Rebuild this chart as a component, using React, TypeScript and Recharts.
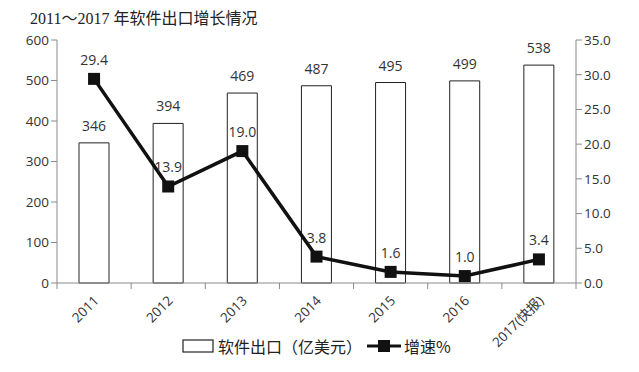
import React from "react";
import {
  Bar, ComposedChart, LabelList, Legend, Line, XAxis, YAxis,
} from "recharts";

const years = ["2011", "2012", "2013", "2014", "2015", "2016", "2017(快报)"];
const exportsUsd = [346, 394, 469, 487, 495, 499, 538];
const growth = [29.4, 13.9, 19.0, 3.8, 1.6, 1.0, 3.4];
const leftTicks = [0, 100, 200, 300, 400, 500, 600];
const rightTicks = [0, 5, 10, 15, 20, 25, 30, 35];

const data = years.map((y, i) => ({ year: y, exports: exportsUsd[i], growth: growth[i] }));

const font = "'Open Sans', 'Noto Sans CJK SC', sans-serif";
const axisColor = "#8a8a8a";
const band = (639 - 57 - 63) / years.length;

function XTick({ x, y, payload, index }: any) {
  const top = y - 8;
  return (
    <g>
      <line x1={x - band / 2} y1={top} x2={x - band / 2} y2={top + 6} stroke={axisColor} />
      {index === years.length - 1 && (
        <line x1={x + band / 2} y1={top} x2={x + band / 2} y2={top + 6} stroke={axisColor} />
      )}
      <text x={x + 3} y={y + 8} transform={`rotate(-45 ${x + 3} ${y + 8})`} textAnchor="end"
        dominantBaseline="middle" fontSize={13.5} fill="#333" fontFamily={font}>
        {payload.value}
      </text>
    </g>
  );
}

function Square(props: any) {
  const { cx, cy } = props;
  if (cx == null || cy == null) return null;
  return <rect x={cx - 6} y={cy - 6} width={12} height={12} fill="#111" />;
}

function LegendBox() {
  return (
    <div style={{ display: "flex", alignItems: "center", fontFamily: "'Noto Sans CJK SC', sans-serif", fontSize: 16, lineHeight: "20px", color: "#222" }}>
      <svg width={32} height={14}><rect x={1} y={1} width={30} height={12} fill="#fff" stroke="#222" strokeWidth={1.2} /></svg>
      <span style={{ marginLeft: 4, marginRight: 5 }}>软件出口（亿美元）</span>
      <svg width={34} height={14}>
        <line x1={0} y1={7} x2={34} y2={7} stroke="#111" strokeWidth={3} />
        <rect x={11} y={1} width={12} height={12} fill="#111" />
      </svg>
      <span style={{ marginLeft: 3 }}>增速%</span>
    </div>
  );
}

export default function App() {
  return (
    <div style={{ position: "absolute", left: 0, top: 0, width: 639, height: 372, background: "#fff" }}>
      <div style={{ position: "absolute", left: 30, top: 5, fontFamily: "'Liberation Serif', 'Noto Sans CJK SC', serif", fontSize: 16, color: "#222" }}>
        2011～2017 年软件出口增长情况
      </div>
      <ComposedChart width={639} height={372} data={data}
        margin={{ top: 40, right: 0, bottom: 0, left: 0 }}>
        <XAxis dataKey="year" height={69} tick={<XTick />} interval={0}
          axisLine={{ stroke: axisColor }} tickLine={false} />
        <YAxis yAxisId="left" width={57} domain={[0, 600]} ticks={leftTicks} interval={0}
          tick={{ fontSize: 13.5, fill: "#333", fontFamily: font }}
          axisLine={{ stroke: axisColor }} tickLine={{ stroke: axisColor }} tickSize={6} />
        <YAxis yAxisId="right" orientation="right" width={63} domain={[0, 35]} ticks={rightTicks} interval={0}
          tickFormatter={(v: number) => v.toFixed(1)}
          tick={{ fontSize: 13.5, fill: "#333", fontFamily: font }}
          axisLine={{ stroke: axisColor }} tickLine={{ stroke: axisColor }} tickSize={6} />
        <Legend verticalAlign="bottom" content={<LegendBox />}
          wrapperStyle={{ left: 182, top: 336, width: "auto" }} />
        <Bar yAxisId="left" dataKey="exports" fill="#fff" stroke="#222" strokeWidth={1}
          barSize={30} isAnimationActive={false}>
          <LabelList dataKey="exports" position="top" offset={12} fontSize={14} fill="#333" fontFamily={font} />
        </Bar>
        <Line yAxisId="right" dataKey="growth" stroke="#111" strokeWidth={3.5} dot={<Square />}
          isAnimationActive={false}>
          <LabelList dataKey="growth" position="top" offset={14} fontSize={14} fill="#333" fontFamily={font}
            formatter={(v: number) => v.toFixed(1)} />
        </Line>
      </ComposedChart>
    </div>
  );
}
